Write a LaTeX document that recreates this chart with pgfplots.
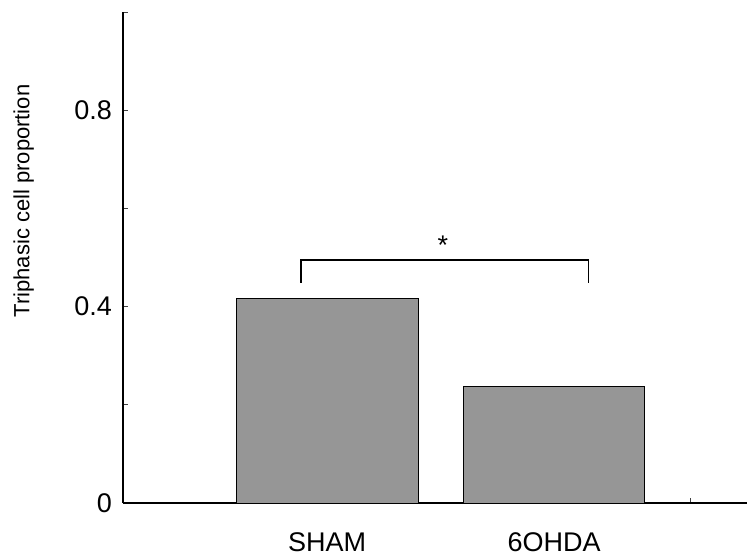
\documentclass[border=0pt]{standalone}
\usepackage{pgfplots}
\pgfplotsset{compat=1.18}
\usepackage{fontspec}
\setmainfont{Liberation Sans}
\definecolor{bargray}{HTML}{969696}
\begin{document}
\begin{tikzpicture}
\begin{axis}[
  name=ax,
  scale only axis,
  width=624pt, height=491pt,
  xmin=0.1, xmax=2.85,
  ymin=0, ymax=1,
  axis lines=left,
  axis line style={-, line width=1.3pt},
  ytick={0,0.4,0.8},
  yticklabels={0,0.4,0.8},
  minor ytick={0.2,0.6,1.0},
  xtick={1.1,2.1,2.6},
  xticklabels={},
  extra x ticks={1,2},
  extra x tick labels={SHAM,6OHDA},
  extra x tick style={major tick length=0pt},
  tick align=inside,
  major tick length=5pt, minor tick length=5pt,
  tick style={line width=0.8pt, black!75},
  /pgf/number format/assume math mode=true,
  yticklabel style={inner sep=0pt, font=\fontsize{27}{30}\selectfont},
  yticklabel shift=11pt,
  xticklabel style={inner sep=0pt, anchor=north, font=\fontsize{27}{30}\selectfont},
  xticklabel shift=29pt,
  ylabel={Triphasic cell proportion},
  ylabel style={font=\fontsize{22}{25}\selectfont, inner sep=0pt, at={(axis description cs:-0.159,0.615)}, anchor=center},
  clip=false,
]
\addplot[ybar, bar width=0.8, fill=bargray, draw=black, line width=0.8pt] coordinates {(1,0.416) (2,0.237)};
\addplot[black, line width=1.3pt] coordinates {(0.885,0.449) (0.885,0.495) (2.15,0.495) (2.15,0.449)};
\node[font=\fontsize{27}{30}\selectfont, inner sep=0pt] at (axis cs:1.51,0.524) {*};
\end{axis}
\pgfresetboundingbox
\path[use as bounding box] ([shift={(-123pt,-53pt)}]ax.south west) rectangle ([shift={(0pt,12pt)}]ax.north east);
\end{tikzpicture}
\end{document}
